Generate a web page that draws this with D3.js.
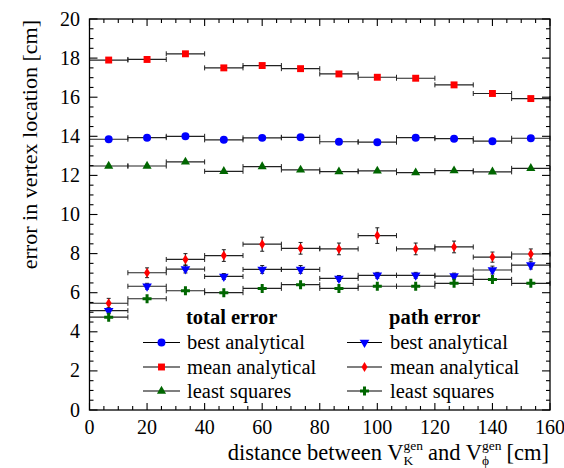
<!DOCTYPE html>
<html>
<head>
<meta charset="utf-8">
<script src="https://cdn.jsdelivr.net/npm/d3@7"></script>
<style>
  body { margin: 0; background: #fff; }
  text { font-family: 'Liberation Serif', 'Times New Roman', Times, serif; }
</style>
</head>
<body>
<svg id="chart" width="564" height="468"></svg>
<script>
// bin edges along the distance axis (12 equal bins, 0..160 cm)
const binEdges = d3.range(13).map((i) => (i * 160) / 12);

// total error
const totalBest = [13.85, 13.93, 14.0, 13.82, 13.92, 13.95, 13.72, 13.7, 13.93, 13.88, 13.75, 13.9];
const totalMean = [17.9, 17.93, 18.22, 17.5, 17.62, 17.46, 17.19, 17.02, 16.97, 16.63, 16.19, 15.93];
const totalLsq = [12.48, 12.48, 12.69, 12.21, 12.45, 12.28, 12.19, 12.23, 12.14, 12.24, 12.18, 12.36];

// path error
const pathBest = [5.08, 6.33, 7.21, 6.83, 7.19, 7.19, 6.73, 6.89, 6.89, 6.85, 7.16, 7.41];
const pathBestErr = [0.15, 0.15, 0.2, 0.15, 0.2, 0.2, 0.15, 0.15, 0.15, 0.15, 0.2, 0.2];
const pathMean = [5.46, 7.02, 7.7, 7.9, 8.48, 8.27, 8.24, 8.92, 8.24, 8.34, 7.82, 7.98];
const pathMeanErr = [0.25, 0.25, 0.3, 0.3, 0.36, 0.3, 0.3, 0.4, 0.3, 0.3, 0.26, 0.26];
const pathLsq = [4.75, 5.69, 6.1, 6.0, 6.22, 6.41, 6.22, 6.33, 6.33, 6.48, 6.68, 6.48];

const yTicks = [0, 2, 4, 6, 8, 10, 12, 14, 16, 18, 20];
const xTicks = [0, 20, 40, 60, 80, 100, 120, 140, 160];

const blue = '#0000ff';
const red = '#ff0000';
const green = '#006600';
const serif = "'Liberation Serif', 'Times New Roman', serif";

const svg = d3.select('#chart').attr('font-family', serif);
const margin = { left: 89.5, right: 550, top: 19, bottom: 410 };

const x = d3.scaleLinear().domain([0, 160]).range([margin.left, margin.right]);
const y = d3.scaleLinear().domain([0, 20]).range([margin.bottom, margin.top]);

// marker shapes
const sym = {
  circle: d3.symbol().type(d3.symbolCircle).size(50),
  square: d3.symbol().type(d3.symbolSquare).size(48),
  triUp: d3.symbol().type(d3.symbolTriangle).size(36),
};
function drawMarker(g, kind, cx, cy, color) {
  if (kind === 'triDown') {
    g.append('path')
      .attr('d', d3.symbol().type(d3.symbolTriangle).size(40)())
      .attr('transform', `translate(${cx},${cy}) rotate(180)`)
      .attr('fill', color);
  } else if (kind === 'diamond') {
    g.append('path')
      .attr('d', 'M0,-5 L3,0 L0,5 L-3,0 Z')
      .attr('transform', `translate(${cx},${cy})`)
      .attr('fill', color);
  } else if (kind === 'cross') {
    g.append('path')
      .attr('d', 'M-1.5,-4.5 H1.5 V-1.5 H4.5 V1.5 H1.5 V4.5 H-1.5 V1.5 H-4.5 V-1.5 H-1.5 Z')
      .attr('transform', `translate(${cx},${cy})`)
      .attr('fill', color);
  } else {
    g.append('path')
      .attr('d', sym[kind]())
      .attr('transform', `translate(${cx},${cy})`)
      .attr('fill', color);
  }
}

function drawSeries(values, errs, kind, color) {
  const g = svg.append('g');
  values.forEach((v, i) => {
    const x0 = x(binEdges[i]);
    const x1 = x(binEdges[i + 1]);
    const cy = y(v);
    const cx = (x0 + x1) / 2;
    // horizontal bin-width bar with end caps
    g.append('line').attr('x1', x0).attr('x2', x1).attr('y1', cy).attr('y2', cy)
      .attr('stroke', '#222').attr('stroke-width', 1.2);
    [x0, x1].forEach((xe) => {
      g.append('line').attr('x1', xe).attr('x2', xe).attr('y1', cy - 2.5).attr('y2', cy + 2.5)
        .attr('stroke', '#222').attr('stroke-width', 1);
    });
    if (errs) {
      const e = errs[i];
      g.append('line').attr('x1', cx).attr('x2', cx).attr('y1', y(v + e)).attr('y2', y(v - e))
        .attr('stroke', '#222').attr('stroke-width', 1.2);
      [v + e, v - e].forEach((ye) => {
        g.append('line').attr('x1', cx - 2).attr('x2', cx + 2).attr('y1', y(ye)).attr('y2', y(ye))
          .attr('stroke', '#222').attr('stroke-width', 1);
      });
    }
    drawMarker(g, kind, cx, cy, color);
  });
}

drawSeries(totalMean, null, 'square', red);
drawSeries(totalBest, null, 'circle', blue);
drawSeries(totalLsq, null, 'triUp', green);
drawSeries(pathMean, pathMeanErr, 'diamond', red);
drawSeries(pathBest, pathBestErr, 'triDown', blue);
drawSeries(pathLsq, null, 'cross', green);

// frame
svg.append('rect')
  .attr('x', margin.left).attr('y', margin.top)
  .attr('width', margin.right - margin.left).attr('height', margin.bottom - margin.top)
  .attr('fill', 'none').attr('stroke', '#000').attr('stroke-width', 1.3);

// ticks on all four sides (pointing inward)
const tickG = svg.append('g').attr('stroke', '#000').attr('stroke-width', 1.1);
d3.range(0, 160.01, 5).forEach((t) => {
  const len = t % 20 === 0 ? 7 : 4;
  tickG.append('line').attr('x1', x(t)).attr('x2', x(t)).attr('y1', margin.bottom).attr('y2', margin.bottom - len);
  tickG.append('line').attr('x1', x(t)).attr('x2', x(t)).attr('y1', margin.top).attr('y2', margin.top + len);
});
d3.range(0, 20.01, 0.5).forEach((t) => {
  const len = Math.abs(t % 2) < 1e-6 ? 8 : 4;
  tickG.append('line').attr('y1', y(t)).attr('y2', y(t)).attr('x1', margin.left).attr('x2', margin.left + len);
  tickG.append('line').attr('y1', y(t)).attr('y2', y(t)).attr('x1', margin.right).attr('x2', margin.right - len);
});

// tick labels
svg.append('g').selectAll('text').data(xTicks).join('text')
  .attr('x', (d) => x(d)).attr('y', 434)
  .attr('text-anchor', 'middle').attr('font-size', 20)
  .text((d) => d);
svg.append('g').selectAll('text').data(yTicks).join('text')
  .attr('x', 80).attr('y', (d) => y(d) + 6.5)
  .attr('text-anchor', 'end').attr('font-size', 20)
  .text((d) => d);

// y axis title (aligned to top end of axis)
svg.append('text')
  .attr('transform', `translate(37,${margin.top + 1}) rotate(-90)`)
  .attr('text-anchor', 'end').attr('font-size', 22)
  .text('error in vertex location [cm]');

// x axis title with stacked super/subscripts, right aligned to axis end
const xTitle = svg.append('g');
let cursor = 0;
function piece(str, size, dy) {
  const t = xTitle.append('text').attr('x', cursor).attr('y', dy).attr('font-size', size).text(str);
  return t.node().getComputedTextLength();
}
function stacked(sup, sub) {
  const w1 = piece(sup, 13.5, -9.5);
  const w2 = piece(sub, 13.5, 5.5);
  cursor += Math.max(w1, w2) + 1;
}
cursor += piece('distance between V', 22.5, 0);
stacked('gen', 'K');
cursor += 4;
cursor += piece('and V', 22.5, 0);
stacked('gen', 'ϕ');
cursor += 4;
cursor += piece('[cm]', 22.5, 0);
xTitle.attr('transform', `translate(${549 - cursor},459.5)`);

// legend
const legend = svg.append('g');
const cols = [
  { title: 'total error', x0: 143, x1: 180, tx: 187, tHead: 186,
    items: [['best analytical', 'circle', blue], ['mean analytical', 'square', red], ['least squares', 'triUp', green]] },
  { title: 'path error', x0: 347, x1: 382, tx: 390, tHead: 389,
    items: [['best analytical', 'triDown', blue], ['mean analytical', 'diamond', red], ['least squares', 'cross', green]] },
];
const rowY = [342.5, 367, 391];
cols.forEach((c) => {
  legend.append('text').attr('x', c.tHead).attr('y', 324)
    .attr('font-size', 20.5).attr('font-weight', 'bold').text(c.title);
  c.items.forEach(([label, kind, color], i) => {
    const cy = rowY[i];
    legend.append('line').attr('x1', c.x0).attr('x2', c.x1).attr('y1', cy).attr('y2', cy)
      .attr('stroke', '#000').attr('stroke-width', 1.1);
    drawMarker(legend, kind, (c.x0 + c.x1) / 2, cy, color);
    legend.append('text').attr('x', c.tx).attr('y', cy + 6.5).attr('font-size', 20.5).text(label);
  });
});
</script>
</body>
</html>
